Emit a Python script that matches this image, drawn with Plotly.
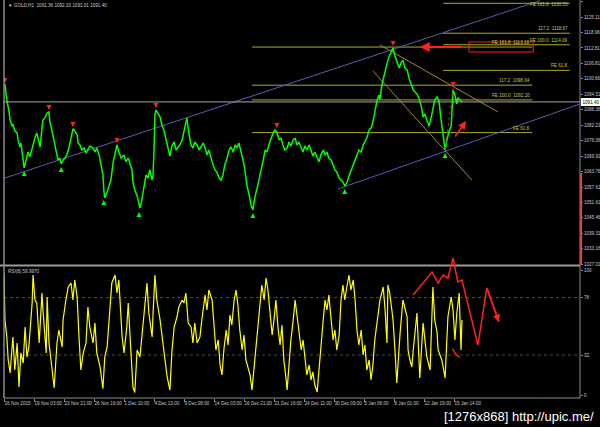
import plotly.graph_objects as go

# ---------------- data ----------------
tick_bars = [0, 64, 128, 192, 256, 320, 384, 448, 512, 576, 640, 704, 768, 832, 896, 960]
tick_dates = ["16 Nov 2015", "19 Nov 03:00", "23 Nov 21:00", "26 Nov 16:00", "1 Dec 10:00",
              "4 Dec 13:00", "9 Dec 08:00", "14 Dec 03:00", "16 Dec 21:00", "21 Dec 16:00",
              "24 Dec 11:00", "30 Dec 09:00", "5 Jan 06:00", "8 Jan 01:00", "12 Jan 19:00",
              "15 Jan 14:00"]

price_ticks = [1131.26, 1125.11, 1118.96, 1112.81, 1106.81, 1100.66, 1094.51, 1088.36, 1082.21,
               1076.06, 1069.91, 1063.76, 1057.61, 1051.61, 1045.46, 1039.31, 1033.16, 1027.01]

price_bars = [0, 2, 4, 6, 11, 13, 17, 19, 23, 28, 30, 34, 36, 41, 43, 47, 51, 55, 60, 62, 66, 70, 75, 77,
              81, 83, 87, 92, 96, 98, 102, 107, 109, 113, 115, 119, 122, 126, 130, 134, 139, 141, 145,
              147, 151, 156, 158, 162, 166, 171, 175, 179, 183, 190, 194, 198, 203, 207, 211, 213, 215,
              220, 224, 228, 233, 237, 241, 245, 250, 256, 260, 265, 269, 273, 275, 279, 284, 288, 290,
              294, 299, 303, 307, 311, 316, 318, 320, 322, 324, 329, 333, 337, 341, 346, 350, 354, 358,
              363, 367, 371, 375, 380, 384, 388, 390, 395, 399, 403, 407, 412, 416, 420, 425, 429, 433,
              437, 442, 446, 450, 454, 459, 463, 467, 471, 476, 480, 484, 489, 493, 497, 501, 506, 510,
              514, 518, 523, 527, 531, 535, 540, 544, 548, 553, 557, 561, 565, 570, 574, 578, 582, 587,
              591, 595, 599, 604, 608, 612, 617, 621, 625, 629, 634, 638, 642, 646, 651, 655, 659, 663,
              668, 672, 676, 681, 685, 689, 693, 698, 702, 706, 710, 715, 719, 723, 727, 732, 736, 740,
              745, 749, 753, 757, 762, 766, 770, 774, 779, 783, 787, 791, 796, 800, 802, 806, 811, 815,
              819, 823, 828, 830, 834, 838, 843, 847, 851, 855, 860, 864, 868, 873, 877, 881, 885, 890,
              894, 898, 902, 907, 911, 915, 919, 924, 928, 932, 937, 941, 945, 949, 954, 958, 962, 966,
              968, 973, 977]
price_vals = [1097.7, 1098.5, 1095.3, 1092.2, 1087.4, 1084.2, 1081.8, 1082.6, 1079.9, 1079.1, 1076.3,
              1073.5, 1075.1, 1068.3, 1065.2, 1068.3, 1071.5, 1069.5, 1073.1, 1075.1, 1077.1, 1079.1,
              1075.5, 1073.5, 1081.0, 1084.2, 1085.0, 1087.0, 1087.4, 1083.4, 1080.3, 1076.3, 1073.5,
              1070.3, 1068.3, 1069.1, 1066.8, 1068.3, 1069.1, 1070.3, 1073.5, 1075.1, 1079.5, 1080.7,
              1079.9, 1078.3, 1075.1, 1074.3, 1072.3, 1073.1, 1071.1, 1072.3, 1073.9, 1073.1, 1071.5,
              1073.1, 1070.3, 1066.4, 1062.4, 1056.4, 1053.3, 1055.6, 1058.4, 1060.4, 1067.6, 1071.5,
              1074.3, 1071.5, 1069.1, 1070.3, 1067.6, 1069.1, 1066.4, 1064.4, 1059.6, 1056.4, 1054.1,
              1051.3, 1049.3, 1052.5, 1058.4, 1062.4, 1061.2, 1064.4, 1060.4, 1062.4, 1072.3, 1086.2,
              1088.2, 1086.6, 1085.4, 1082.2, 1080.3, 1076.3, 1072.3, 1069.9, 1073.9, 1075.5, 1072.3,
              1073.1, 1074.3, 1076.3, 1079.5, 1083.4, 1085.0, 1078.3, 1074.3, 1073.1, 1075.5, 1074.3,
              1072.3, 1073.5, 1075.1, 1073.1, 1070.3, 1072.3, 1068.3, 1066.4, 1064.4, 1063.6, 1061.2,
              1060.4, 1062.4, 1066.4, 1069.1, 1072.3, 1073.5, 1071.5, 1074.3, 1073.1, 1075.1, 1071.5,
              1068.3, 1064.4, 1058.4, 1054.4, 1050.5, 1048.5, 1053.3, 1057.2, 1060.4, 1064.4, 1068.3,
              1072.3, 1071.5, 1074.3, 1077.1, 1079.1, 1080.3, 1079.5, 1076.3, 1077.1, 1074.3, 1072.3,
              1073.1, 1075.5, 1073.9, 1076.3, 1077.1, 1074.3, 1075.5, 1073.1, 1071.5, 1073.9, 1072.3,
              1074.3, 1072.3, 1069.9, 1071.5, 1069.1, 1067.6, 1070.3, 1072.3, 1070.3, 1071.5, 1069.1,
              1068.3, 1066.4, 1064.4, 1063.6, 1061.2, 1060.4, 1059.6, 1058.0, 1059.6, 1062.0, 1064.4,
              1066.4, 1068.3, 1070.3, 1072.3, 1071.5, 1074.3, 1075.5, 1077.1, 1080.3, 1081.0, 1083.4,
              1087.4, 1092.2, 1094.1, 1092.2, 1098.1, 1102.1, 1104.9, 1108.0, 1110.0, 1112.0, 1112.8,
              1109.6, 1107.3, 1104.9, 1106.9, 1108.0, 1104.9, 1104.1, 1100.9, 1098.5, 1096.1, 1095.3,
              1094.5, 1093.0, 1089.8, 1085.4, 1086.6, 1084.2, 1081.8, 1085.0, 1089.4, 1092.2, 1093.4,
              1091.8, 1085.0, 1078.3, 1072.3, 1076.3, 1079.5, 1081.8, 1096.1, 1094.1, 1090.6, 1093.0,
              1092.2, 1091.4]

rsi_bars = [0, 2, 6, 9, 13, 19, 23, 28, 32, 36, 41, 45, 49, 53, 60, 62, 66, 70, 75, 81, 83, 90, 92, 96,
            102, 107, 113, 117, 124, 126, 132, 137, 143, 147, 151, 156, 160, 164, 169, 175, 179, 183,
            190, 194, 198, 205, 211, 215, 220, 226, 230, 237, 241, 245, 252, 256, 262, 265, 271, 275,
            279, 284, 290, 297, 301, 305, 309, 316, 318, 322, 326, 333, 339, 343, 348, 354, 358, 363,
            369, 373, 380, 384, 388, 393, 399, 403, 407, 412, 418, 422, 429, 433, 437, 444, 448, 452,
            457, 461, 465, 469, 474, 478, 482, 486, 491, 495, 499, 503, 508, 512, 516, 521, 525, 529,
            533, 538, 542, 546, 550, 555, 559, 563, 567, 572, 576, 580, 585, 589, 593, 597, 602, 604,
            608, 612, 617, 621, 625, 629, 634, 638, 642, 646, 651, 655, 659, 663, 668, 672, 676, 681,
            685, 689, 693, 698, 702, 706, 710, 715, 719, 723, 727, 732, 736, 740, 745, 749, 753, 757,
            762, 766, 770, 774, 779, 783, 787, 791, 796, 800, 802, 809, 813, 817, 819, 823, 830, 834,
            838, 845, 851, 860, 862, 866, 870, 873, 877, 881, 887, 894, 898, 902, 909, 915, 919, 924,
            926, 934, 941, 947, 954, 958, 962, 966, 971, 975, 977]
rsi_vals = [97.6, 60, 46.4, 28, 17.6, 46.4, 20, 41.6, 6.4, 33.6, 25.6, 54.4, 30.4, 38.4, 73.6, 96, 76,
            73.6, 41.6, 81.6, 68, 33.6, 78.4, 41.6, 22.4, 5.6, 41.6, 52, 38.4, 60, 76, 86.4, 89.6, 76,
            92, 78.4, 46.4, 20, 33.6, 41.6, 70.4, 54.4, 41.6, 57.6, 33.6, 22.4, 5, 30.4, 38.4, 70.4,
            89.6, 96, 81.6, 92, 46.4, 33.6, 54.4, 73.6, 28, 6.4, 2, 36, 30.4, 60, 78.4, 89.6, 65.6,
            46.4, 65.6, 96, 76, 60, 41.6, 28, 14.4, 4, 33.6, 54.4, 62.4, 70.4, 76, 73.6, 81.6, 57.6,
            54.4, 41.6, 57.6, 41.6, 46.4, 60, 80, 68, 84, 76, 52, 36, 44, 24, 16, 36, 52, 40, 64, 56,
            76, 84, 72, 52, 36, 48, 28, 20, 16, 4, 20, 40, 60, 76, 88, 76, 93.6, 84, 68, 48, 60, 76,
            52, 40, 56, 28, 12, 4, 24, 44, 60, 76, 64, 52, 36, 44, 28, 16, 24, 12, 18.4, 8, 2.4, 20,
            44, 60, 76, 68, 80, 60, 44, 52, 36, 48, 76, 88, 76, 88, 96, 84, 92, 76, 52, 40, 52, 32,
            40, 20, 28, 12, 24, 44, 60, 68, 76, 86.4, 68, 41.6, 88, 81.6, 60, 36, 9.6, 49.6, 76, 62.4,
            36, 28, 22.4, 36, 52, 65.6, 13.6, 57.6, 44, 30.4, 20, 86.4, 60, 49.6, 36, 28, 13.6, 62.4,
            78.4, 68, 44, 65.6, 81.6, 36, 60]
rsi_ticks = [100, 78, 32, 0]
rsi_levels = [78, 32]

frac_high_bars = [2, 96, 147, 241, 324, 582, 830, 958]
frac_high_vals = [1098.9, 1088.2, 1081.4, 1075.1, 1089.0, 1081.0, 1113.6, 1097.3]
frac_low_bars = [43, 122, 213, 288, 531, 727, 941]
frac_low_vals = [1064.0, 1065.6, 1052.5, 1047.7, 1047.3, 1056.8, 1071.1]

chan_up_bars, chan_up_vals = [0, 1143], [1061.1, 1131.6]
chan_lo_bars, chan_lo_vals = [712, 1229], [1056.8, 1090.6]
wedge_a_bars, wedge_a_vals = [802, 1054], [1114.0, 1087.4]
wedge_b_bars, wedge_b_vals = [787, 998], [1103.7, 1060.4]

fibA_span = [529, 1127]
fibA_levels = [1113.18, 1098.04, 1092.20, 1079.23]
fibA_labels = ["FE 161.8  1113.18", "117.2  1098.04", "FE 100.0  1092.20", "FE 61.8"]
fibB_span = [937, 1207]
fibB_levels = [1130.55, 1118.67, 1114.09, 1103.92]
fibB_labels = ["FE 161.8  1130.55", "117.2  1118.67", "FE 100.0  1114.09", "FE 61.8"]

box_bars, box_vals = [992, 1129], [1111.2, 1115.2]
arrow_left = dict(x=887, y=1113.2, ax=979, ay=1113.2)
arrow_up = dict(x=986, y=1083.8, ax=960, ay=1077.1)
dotted_bars, dotted_vals = [941, 958], [1072.3, 1096.9]

proj_bars = [873, 913, 926, 937, 947, 958, 968, 977, 1011, 1030, 1056]
proj_vals = [80, 98.4, 89.6, 96, 93.6, 109.6, 90.4, 92, 40, 85.6, 58.4]
hook_bars, hook_vals = [957, 963, 973], [37, 33, 30]

last_price = 1091.40
axis_bar_low, axis_bar_high = 1026.66, 1063.2
title_text = "\u25bc GOLD,H1  1091.36 1092.20 1091.01 1091.40"
rsi_title = "RSI(8) 59.9970"
watermark = "[1276x868] http://upic.me/"

# ---------------- figure ----------------
FONT = "Liberation Sans"
TXT = "#c8c8c8"
GRAY = "#8a8a8a"
FIB = "#a8a832"
TAN = "#a8823c"
BLUE = "#5a5ab8"
RED = "#ff2020"
Y_RANGE = [1026.66, 1131.86]

fig = go.Figure()

def line(xs, ys, color, width, yaxis="y", dash=None):
    fig.add_trace(go.Scatter(x=xs, y=ys, mode="lines", yaxis=yaxis, hoverinfo="skip",
                             line=dict(color=color, width=width, dash=dash)))

for lv in fibA_levels:
    line(fibA_span, [lv, lv], FIB, 1)
for lv in fibB_levels:
    line(fibB_span, [lv, lv], FIB, 1)

line(chan_up_bars, chan_up_vals, BLUE, 1)
line(chan_lo_bars, chan_lo_vals, BLUE, 1)
line(wedge_a_bars, wedge_a_vals, TAN, 1)
line(wedge_b_bars, wedge_b_vals, TAN, 1)

line(price_bars, price_vals, "#00ff00", 1.5)
line(dotted_bars, dotted_vals, "#c02020", 1, dash="dot")

fig.add_trace(go.Scatter(x=frac_high_bars, y=frac_high_vals, mode="markers", hoverinfo="skip",
                         marker=dict(symbol="arrow-down", size=5, color=RED)))
fig.add_trace(go.Scatter(x=frac_low_bars, y=frac_low_vals, mode="markers", hoverinfo="skip",
                         marker=dict(symbol="arrow-up", size=5, color="#00ff00")))

line(rsi_bars, rsi_vals, "#ffff00", 1.2, yaxis="y2")
line(proj_bars, proj_vals, RED, 1.5, yaxis="y2")
line(hook_bars, hook_vals, RED, 1.5, yaxis="y2")

main_dom = [1 - 265 / 398, 1]
rsi_dom = [0, 143 / 398]

shapes = [
    dict(type="line", xref="paper", yref="paper", x0=0, x1=0, y0=0, y1=1, line=dict(color=GRAY, width=1.5)),
    dict(type="line", xref="paper", yref="paper", x0=1, x1=1, y0=0, y1=1, line=dict(color=GRAY, width=1)),
    dict(type="line", xref="paper", yref="paper", x0=0, x1=1, y0=0, y1=0, line=dict(color=GRAY, width=1)),
    dict(type="line", xref="paper", yref="paper", x0=-0.007, x1=1, y0=(398 - 265.5) / 398, y1=(398 - 265.5) / 398,
         line=dict(color="#9a9a9a", width=2), layer="below"),
    dict(type="line", xref="paper", yref="y", x0=0, x1=1, y0=last_price, y1=last_price,
         line=dict(color="#a8a8a8", width=1)),
    dict(type="line", xref="paper", yref="y", x0=1.002, x1=1.002, y0=axis_bar_low, y1=axis_bar_high,
         line=dict(color="#e04848", width=2)),
    dict(type="rect", xref="x", yref="y", x0=box_bars[0], x1=box_bars[1], y0=box_vals[0], y1=box_vals[1],
         line=dict(color=RED, width=1)),
]
for lv in rsi_levels:
    shapes.append(dict(type="line", xref="paper", yref="y2", x0=0, x1=1, y0=lv, y1=lv,
                       line=dict(color="#4a4a4a", width=1, dash="dot"), layer="below"))

small = dict(family=FONT, size=4.6, color=TXT)
fibfont = dict(family=FONT, size=4.6, color="#c8c848")
ann = []
for lv, lab in zip(fibA_levels, fibA_labels):
    ann.append(dict(x=fibA_span[1], y=lv, xref="x", yref="y", text=lab, showarrow=False,
                    xanchor="right", yanchor="bottom", font=fibfont))
for lv, lab in zip(fibB_levels, fibB_labels):
    if lv > Y_RANGE[1] - 3:
        # label of the top level sits at the very top edge of the pane
        ann.append(dict(x=fibB_span[1], y=Y_RANGE[1], xref="x", yref="y", text=lab, showarrow=False,
                        xanchor="right", yanchor="top", font=fibfont))
    else:
        ann.append(dict(x=fibB_span[1], y=lv, xref="x", yref="y", text=lab, showarrow=False,
                        xanchor="right", yanchor="bottom", font=fibfont))
ann.append(dict(x=arrow_left["x"], y=arrow_left["y"], ax=arrow_left["ax"], ay=arrow_left["ay"],
                xref="x", yref="y", axref="x", ayref="y", text="", showarrow=True,
                arrowhead=2, arrowsize=1, arrowwidth=2, arrowcolor=RED))
ann.append(dict(x=arrow_up["x"], y=arrow_up["y"], ax=arrow_up["ax"], ay=arrow_up["ay"],
                xref="x", yref="y", axref="x", ayref="y", text="", showarrow=True,
                arrowhead=2, arrowsize=1, arrowwidth=1.6, arrowcolor=RED))
ann.append(dict(x=proj_bars[-1], y=proj_vals[-1], ax=proj_bars[-2], ay=proj_vals[-2],
                xref="x", yref="y2", axref="x", ayref="y2", text="", showarrow=True,
                arrowhead=2, arrowsize=1, arrowwidth=1.5, arrowcolor=RED))
ann.append(dict(x=1.0, y=last_price, xref="paper", yref="y", text=f"{last_price:.2f}",
                showarrow=False, xanchor="left", yanchor="middle", bgcolor="#ffffff",
                bordercolor="#ffffff", borderpad=0.5, xshift=1,
                font=dict(family=FONT, size=4.6, color="#000000")))
ann.append(dict(x=2 / 576, y=1 - 5 / 398, xref="paper", yref="paper", text=title_text, showarrow=False,
                xanchor="left", yanchor="middle", font=small))
ann.append(dict(x=2 / 576, y=(398 - 271) / 398, xref="paper", yref="paper", text=rsi_title, showarrow=False,
                xanchor="left", yanchor="middle", font=small))
ann.append(dict(x=(596 - 4) / 576, y=(398 - 416) / 398, xref="paper", yref="paper", text=watermark,
                showarrow=False, xanchor="right", yanchor="middle",
                font=dict(family=FONT, size=13, color="#ffffff")))

fig.update_layout(
    width=600, height=427, autosize=False,
    margin=dict(l=4, r=20, t=0, b=29, pad=0),
    paper_bgcolor="#000000", plot_bgcolor="rgba(0,0,0,0)",
    showlegend=False, hovermode=False,
    xaxis=dict(domain=[0, 1], range=[0, 1228.8], anchor="y2", showgrid=False, zeroline=False,
               showline=False, tickmode="array", tickvals=tick_bars, ticktext=tick_dates,
               ticks="outside", ticklen=3, tickcolor=GRAY, tickfont=small, tickangle=0,
               ticklabelposition="outside right"),
    yaxis=dict(domain=main_dom, range=Y_RANGE, anchor="x", side="right", showgrid=False,
               zeroline=False, showline=False, tickmode="array", tickvals=price_ticks,
               ticktext=[f"{v:.2f}" for v in price_ticks], ticks="outside", ticklen=2,
               tickcolor=GRAY, tickfont=small),
    yaxis2=dict(domain=rsi_dom, range=[-2.4, 112], anchor="x", side="right", showgrid=False,
                zeroline=False, showline=False, tickmode="array", tickvals=rsi_ticks,
                ticktext=[str(v) for v in rsi_ticks], ticks="outside", ticklen=2,
                tickcolor=GRAY, tickfont=small),
    shapes=shapes, annotations=ann,
)

fig.write_html("out.html", config={"displayModeBar": False},
               post_script="document.body.style.margin='0';document.body.style.background='#000';")
